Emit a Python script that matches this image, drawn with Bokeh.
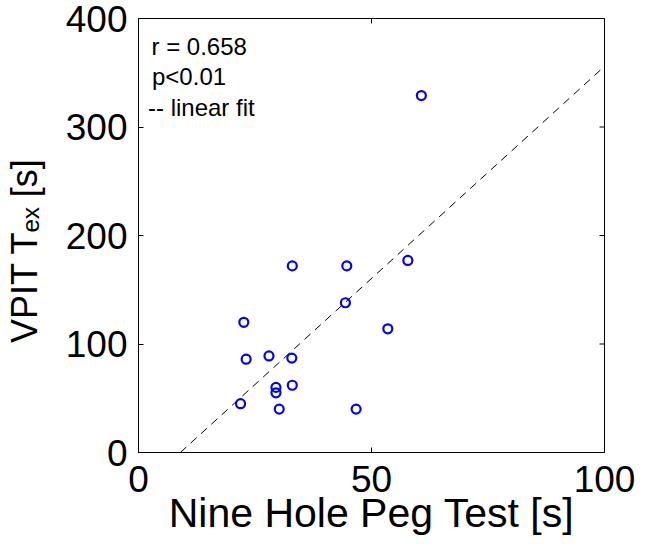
import math
from bokeh.plotting import figure
from bokeh.models import Range1d, FixedTicker, Label
from bokeh.embed import file_html
from bokeh.resources import INLINE

# ---- data ----
nhpt = [33.0, 44.7, 57.8, 44.4, 22.6, 53.5, 23.1, 28.0, 32.9, 29.5, 29.5, 33.0, 21.9, 30.2, 46.7, 60.7]
vpit = [172, 172, 177, 138, 120, 114, 86, 89, 87, 60, 55, 62, 45, 40, 40, 329]
fit_slope = 3.91
fit_intercept = -35.1
x_ticks = [0, 50, 100]
y_ticks = [0, 100, 200, 300, 400]
stats_text = ["r = 0.658", "p<0.01", "-- linear fit"]
x_label = "Nine Hole Peg Test [s]"
y_label = "VPIT T\u2091\u2093 [s]"

FONT = "Liberation Sans"
FS = "37px"
x_min, x_max = x_ticks[0], x_ticks[-1]
y_min, y_max = y_ticks[0], y_ticks[-1]

p = figure(width=648, height=540, output_backend="svg", toolbar_location=None,
           x_range=Range1d(x_min, x_max), y_range=Range1d(y_min, y_max),
           frame_width=466, frame_height=434,
           min_border_left=138, min_border_top=18, min_border_right=44, min_border_bottom=88)
p.xgrid.visible = False
p.ygrid.visible = False
p.outline_line_color = "black"
p.outline_line_width = 1
p.background_fill_color = "white"
p.border_fill_color = "white"

for ax, ticks in ((p.xaxis[0], x_ticks), (p.yaxis[0], y_ticks)):
    ax.ticker = FixedTicker(ticks=ticks)
    ax.minor_tick_line_color = None
    ax.major_tick_in = 5
    ax.major_tick_out = 0
    ax.axis_line_color = "black"
    ax.major_tick_line_color = "black"
    ax.major_label_text_font = FONT
    ax.major_label_text_font_size = FS
    ax.major_label_text_color = "black"
    ax.axis_label_text_font = FONT
    ax.axis_label_text_font_style = "normal"
    ax.axis_label_text_color = "black"
p.xaxis[0].major_label_standoff = 13
p.yaxis[0].major_label_standoff = 11
p.xaxis[0].axis_label = x_label
p.xaxis[0].axis_label_text_font_size = "41px"
p.xaxis[0].axis_label_standoff = -5
# trailing no-break spaces nudge the centred label towards the axis origin, as in the reference
p.yaxis[0].axis_label = y_label + "\u00a0\u00a0\u00a0"
p.yaxis[0].axis_label_text_font_size = "36px"
p.yaxis[0].axis_label_standoff = 18

# inward ticks on the top and right edges of the box (half of each dash is clipped by the frame)
p.scatter(x_ticks, [y_max] * len(x_ticks), marker="dash", angle=math.pi / 2, size=10,
          line_color="black", line_width=1)
p.scatter([x_max] * len(y_ticks), y_ticks, marker="dash", size=10,
          line_color="black", line_width=1)

# fit line
x0 = -fit_intercept / fit_slope
xs = [x0, x_max]
ys = [fit_slope * x + fit_intercept for x in xs]
p.line(xs, ys, line_color="black", line_width=1, line_dash="8 6")

# points
p.scatter(nhpt, vpit, marker="circle", size=9, fill_color=None,
          line_color="#0000ff", line_width=2.2)

# pixel (reference image) -> data helpers for text placement
def dx(px):
    return (px - 138.0) / 4.66

def dy(py):
    return (452.0 - py) / 1.085

# stats text
for t, px, py in zip(stats_text, [151.0, 151.5, 147.5], [45.7, 75.7, 107.3]):
    p.add_layout(Label(x=dx(px), y=dy(py), text=t, text_font=FONT, text_font_size="24px",
                       text_align="left", text_baseline="alphabetic", text_color="black"))

open("out.html", "w").write(file_html(p, INLINE))
